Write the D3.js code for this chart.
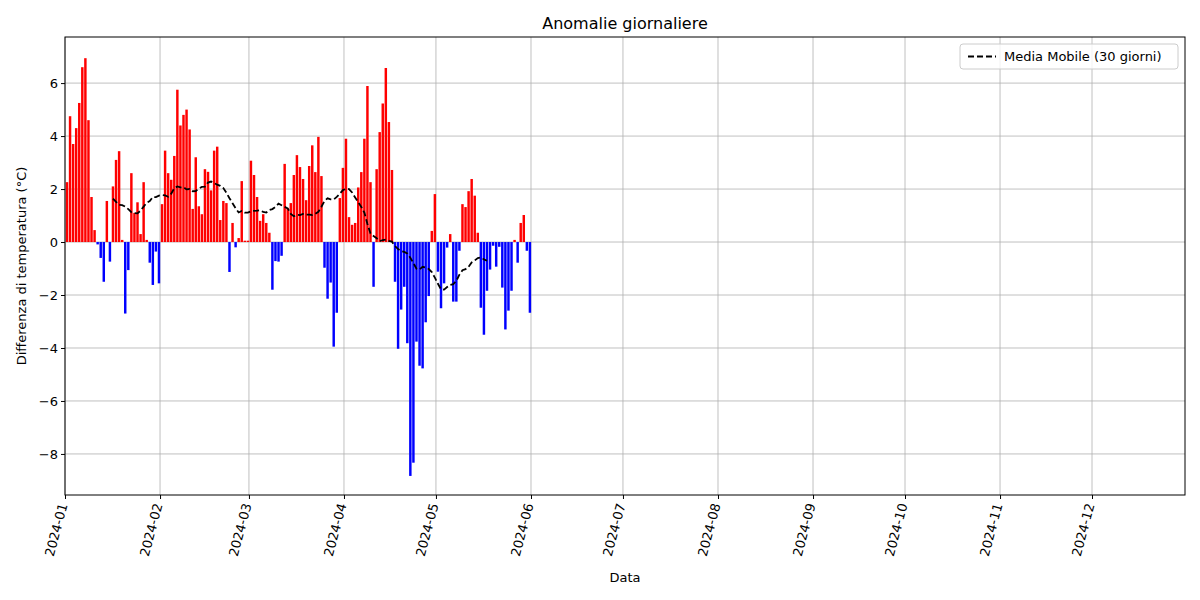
<!DOCTYPE html>
<html>
<head>
<meta charset="utf-8">
<script src="https://cdn.jsdelivr.net/npm/d3@7"></script>
<style>
  body { margin: 0; background: #fff; }
  text { font-family: "DejaVu Sans", sans-serif; }
</style>
</head>
<body>
<div id="grafico"></div>
<script>
// anomalie giornaliere, 2024-01-01 .. 2024-05-31
const jan = [2.26, 4.75, 3.7, 4.3, 5.25, 6.6, 6.94, 4.6, 1.7, 0.45, -0.09, -0.6, -1.5, 1.55, -0.74, 2.1, 3.1, 3.43, 0.08, -2.7, -1.06, 2.6, 1.1, 1.5, 0.3, 2.26, 0.08, -0.78, -1.62, -0.36, -1.56];
const feb = [1.43, 3.45, 2.6, 2.35, 3.25, 5.75, 4.4, 4.8, 5.0, 4.25, 1.25, 3.2, 1.35, 1.05, 2.75, 2.65, 1.95, 3.45, 3.6, 0.83, 1.55, 1.47, -1.13, 0.72, -0.2, 0.15, 2.3, 0.05, 0.05];
const mar = [3.07, 2.53, 1.7, 0.8, 1.05, 0.72, 0.35, -1.8, -0.72, -0.74, -0.52, 2.95, 1.27, 1.47, 2.53, 3.28, 2.83, 2.38, 1.58, 2.87, 3.65, 2.64, 3.97, 2.49, -0.97, -2.14, -1.53, -3.95, -2.67, 1.66, 2.8];
const apr = [3.9, 0.94, 0.65, 0.72, 2.06, 2.64, 3.9, 5.89, 2.26, -1.69, 2.75, 4.15, 5.23, 6.57, 4.53, 2.72, -1.5, -4.03, -2.55, -1.69, -3.82, -8.83, -8.33, -3.76, -4.67, -4.77, -3.03, -2.04, 0.42, 1.81];
const may = [-1.12, -2.5, -1.56, -0.21, 0.3, -2.25, -2.25, -0.33, 1.43, 1.32, 1.92, 2.38, 1.75, 0.35, -2.48, -3.5, -1.84, -1.04, -0.14, -0.93, -0.18, -1.72, -3.3, -2.59, -1.84, 0.08, -0.78, 0.72, 1.02, -0.33, -2.67];
const yTicks = [-8, -6, -4, -2, 0, 2, 4, 6];
const monthTicks = ["2024-01", "2024-02", "2024-03", "2024-04", "2024-05", "2024-06", "2024-07", "2024-08", "2024-09", "2024-10", "2024-11", "2024-12"];

const width = 1200, height = 600;
const mLeft = 65, mRight = 1185, mTop = 37, mBottom = 495;
const day = 864e5;
const start = new Date(2024, 0, 1);

const values = [].concat(jan, feb, mar, apr, may);
const data = values.map((v, i) => ({ date: new Date(start.getTime() + i * day), v }));

// media mobile 30 giorni, centrata
const ma = [];
for (let i = 15; i + 14 < values.length; i++) {
    ma.push({ date: data[i].date, v: d3.mean(values.slice(i - 15, i + 15)) });
}

const xScale = d3.scaleTime()
    .domain([start, new Date(2024, 11, 31, 8)])
    .range([mLeft, mRight]);
const yScale = d3.scaleLinear()
    .domain([-9.55, 7.74])
    .range([mBottom, mTop]);

const svg = d3.select('#grafico').append('svg')
    .attr('width', width).attr('height', height);

const ticksX = monthTicks.map(m => d3.timeParse("%Y-%m")(m));

// griglia
svg.append('g').selectAll('line').data(ticksX).enter().append('line')
    .attr('x1', d => xScale(d)).attr('x2', d => xScale(d))
    .attr('y1', mTop).attr('y2', mBottom)
    .attr('stroke', '#b0b0b0').attr('stroke-width', 0.8);
svg.append('g').selectAll('line').data(yTicks).enter().append('line')
    .attr('x1', mLeft).attr('x2', mRight)
    .attr('y1', d => yScale(d)).attr('y2', d => yScale(d))
    .attr('stroke', '#b0b0b0').attr('stroke-width', 0.8);

// barre
svg.append('g').selectAll('rect').data(data).enter().append('rect')
    .attr('x', d => xScale(new Date(d.date.getTime() + 0.25 * day)))
    .attr('width', xScale(new Date(start.getTime() + 0.8 * day)) - mLeft)
    .attr('y', d => yScale(Math.max(0, d.v)))
    .attr('height', d => Math.abs(yScale(d.v) - yScale(0)))
    .attr('fill', d => d.v >= 0 ? 'red' : 'blue');

// media mobile
svg.append('path').datum(ma)
    .attr('fill', 'none').attr('stroke', 'black')
    .attr('stroke-width', 1.8).attr('stroke-dasharray', '6,3')
    .attr('d', d3.line().x(d => xScale(new Date(d.date.getTime() + 0.65 * day))).y(d => yScale(d.v)));

// assi
const xAxis = d3.axisBottom(xScale).tickValues(ticksX).tickFormat(d3.timeFormat("%Y-%m")).tickSizeOuter(0).tickSize(4);
const gx = svg.append('g').attr('transform', `translate(0,${mBottom})`).call(xAxis);
gx.selectAll('text')
    .attr('font-size', 13).attr('fill', '#000')
    .attr('text-anchor', 'end')
    .attr('x', -9).attr('y', 0)
    .attr('dx', 0).attr('dy', '0.35em')
    .attr('transform', 'rotate(-75)');

const yAxis = d3.axisLeft(yScale).tickValues(yTicks).tickFormat(d => d < 0 ? '\u2212' + Math.abs(d) : d).tickSizeOuter(0).tickSize(4);
const gy = svg.append('g').attr('transform', `translate(${mLeft},0)`).call(yAxis);
gy.selectAll('text').attr('font-size', 13).attr('fill', '#000');

svg.selectAll('.domain').remove();
svg.append('rect').attr('x', mLeft).attr('y', mTop)
    .attr('width', mRight - mLeft).attr('height', mBottom - mTop)
    .attr('fill', 'none').attr('stroke', '#000').attr('stroke-width', 1);

// testi
svg.append('text').attr('x', (mLeft + mRight) / 2).attr('y', 29)
    .attr('text-anchor', 'middle').attr('font-size', 16).text('Anomalie giornaliere');
svg.append('text').attr('x', (mLeft + mRight) / 2).attr('y', 582)
    .attr('text-anchor', 'middle').attr('font-size', 13).text('Data');
svg.append('text').attr('transform', `translate(26,${(mTop + mBottom) / 2}) rotate(-90)`)
    .attr('text-anchor', 'middle').attr('font-size', 13).text('Differenza di temperatura (°C)');

// legenda
const lg = svg.append('g').attr('transform', 'translate(960,44)');
lg.append('rect').attr('width', 218).attr('height', 25).attr('rx', 3)
    .attr('fill', '#fff').attr('fill-opacity', 0.8).attr('stroke', '#ccc');
lg.append('line').attr('x1', 8).attr('x2', 36).attr('y1', 12.5).attr('y2', 12.5)
    .attr('stroke', 'black').attr('stroke-width', 1.8).attr('stroke-dasharray', '6,3');
lg.append('text').attr('x', 44).attr('y', 17).attr('font-size', 13).text('Media Mobile (30 giorni)');
</script>
</body>
</html>
